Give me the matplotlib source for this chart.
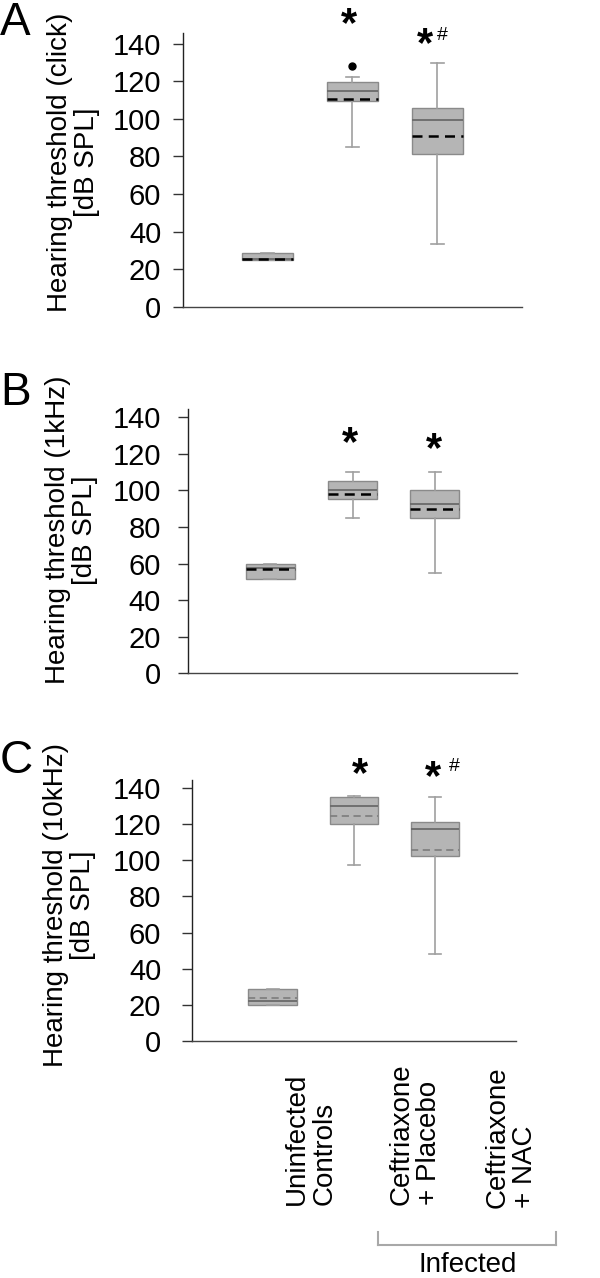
import matplotlib
matplotlib.use("Agg")
import matplotlib.pyplot as plt
from matplotlib.lines import Line2D

plt.rcParams['font.family'] = ['Liberation Sans', 'DejaVu Sans']

# ---------------- data ----------------
groups = ["Uninfected\nControls", "Ceftriaxone\n+ Placebo", "Ceftriaxone\n+ NAC"]
yticks = [0, 20, 40, 60, 80, 100, 120, 140]

# Panel A: click
A_q1 = [24.8, 109.7, 81.1]
A_med = [25.5, 114.9, 99.6]
A_q3 = [28.5, 119.6, 105.8]
A_mean = [25.5, 110.3, 90.8]
A_lo = [24.8, 85.0, 33.5]
A_hi = [28.5, 122.1, 129.7]
A_fliers = [[], [128.3], []]
A_ylabel = "Hearing threshold (click)\n[dB SPL]"

# Panel B: 1 kHz
B_q1 = [51.3, 95.1, 84.9]
B_med = [57.5, 100.0, 92.4]
B_q3 = [60.0, 105.1, 100.0]
B_mean = [56.9, 98.2, 89.8]
B_lo = [51.3, 84.9, 54.9]
B_hi = [60.0, 110.0, 110.0]
B_fliers = [[], [], []]
B_ylabel = "Hearing threshold (1kHz)\n[dB SPL]"

# Panel C: 10 kHz
C_q1 = [19.7, 120.0, 102.4]
C_med = [22.2, 130.4, 117.4]
C_q3 = [28.5, 135.2, 121.3]
C_mean = [23.9, 124.8, 106.0]
C_lo = [19.7, 97.4, 48.3]
C_hi = [28.5, 135.5, 135.2]
C_fliers = [[], [], []]
C_ylabel = "Hearing threshold (10kHz)\n[dB SPL]"

# --------------- layout helpers ---------------
W, H = 600, 1278
fig = plt.figure(figsize=(W / 100, H / 100), dpi=100)


def fx(x):
    return x / W


def fy(y):
    return 1 - y / H


def make_axes(left, right, top, bottom):
    return fig.add_axes([fx(left), fy(bottom), (right - left) / W, (bottom - top) / H])


def stats(q1, med, q3, mean, lo, hi, fl):
    out = []
    for i in range(len(q1)):
        out.append(dict(q1=q1[i], med=med[i], q3=q3[i], mean=mean[i],
                        whislo=lo[i], whishi=hi[i], fliers=fl[i]))
    return out


def draw_panel(ax, st, ytop, mean_color, mean_lw, pad):
    ax.bxp(st, positions=[1, 2, 3], widths=0.6, capwidths=0.15,
           patch_artist=True, showmeans=True, meanline=True,
           boxprops=dict(facecolor='#b5b5b5', edgecolor='#8a8a8a', linewidth=1.0),
           whiskerprops=dict(color='#a0a0a0', linewidth=1.2),
           capprops=dict(color='#a0a0a0', linewidth=1.2),
           medianprops=dict(color='#6a6a6a', linewidth=1.3),
           meanprops=dict(color=mean_color, linestyle=(0, (4, 2.5)), linewidth=mean_lw),
           flierprops=dict(marker='o', markerfacecolor='black', markeredgecolor='black',
                           markersize=5))
    ax.set_xlim(0, 4)
    ax.set_ylim(0, ytop)
    ax.set_yticks(yticks)
    ax.set_xticks([])
    ax.tick_params(axis='y', labelsize=21, length=7, width=1.0, pad=pad, color='#333333')
    for s in ('top', 'right'):
        ax.spines[s].set_visible(False)
    ax.spines['left'].set_color('#222222')
    ax.spines['bottom'].set_color('#444444')
    ax.spines['left'].set_linewidth(1.0)
    ax.spines['bottom'].set_linewidth(1.0)


axA = make_axes(182.7, 522, 33, 306.7)
draw_panel(axA, stats(A_q1, A_med, A_q3, A_mean, A_lo, A_hi, A_fliers), 145.7,
           'black', 1.8, 8.5)
axB = make_axes(188, 517, 409, 673.3)
draw_panel(axB, stats(B_q1, B_med, B_q3, B_mean, B_lo, B_hi, B_fliers), 144.5,
           'black', 1.8, 12.5)
axC = make_axes(191.7, 516, 780, 1040.7)
draw_panel(axC, stats(C_q1, C_med, C_q3, C_mean, C_lo, C_hi, C_fliers), 144.6,
           '#808080', 1.3, 15)

# y labels
for (xc, yc, lab) in [(73.5, 162, A_ylabel), (72, 530, B_ylabel), (70, 905, C_ylabel)]:
    fig.text(fx(xc), fy(yc), lab, rotation=90, ha='center', va='center',
             fontsize=20, linespacing=1.05, multialignment='center')

# panel letters
for (lx, ly, t) in [(0, 35, 'A'), (0, 405, 'B'), (0, 773, 'C')]:
    fig.text(fx(lx), fy(ly), t, fontsize=33, ha='left', va='baseline')

# significance markers
for (sx, sy) in [(349, 36), (425, 56), (350, 455), (434, 461), (360, 786), (433, 789)]:
    fig.text(fx(sx), fy(sy), '*', fontsize=30, fontweight='bold', ha='center', va='baseline')
for (sx, sy) in [(442, 39.5), (454, 771)]:
    fig.text(fx(sx), fy(sy), '#', fontsize=14, ha='center', va='baseline')

# category labels
for (cx, cy, lab) in [(311, 1205, groups[0]), (415, 1205, groups[1]), (511, 1208, groups[2])]:
    fig.text(fx(cx), fy(cy), lab, rotation=90, ha='center', va='bottom',
             fontsize=20, linespacing=1.08, multialignment='left')

# infected bracket
br = '#a8a8a8'
fig.add_artist(Line2D([fx(378), fx(556)], [fy(1245), fy(1245)], color=br, lw=1.5))
fig.add_artist(Line2D([fx(378), fx(378)], [fy(1232), fy(1245)], color=br, lw=1.5))
fig.add_artist(Line2D([fx(556), fx(556)], [fy(1232), fy(1245)], color=br, lw=1.5))
fig.text(fx(468), fy(1272), 'Infected', fontsize=20, ha='center', va='baseline')

fig.savefig('out.png', dpi=100)
